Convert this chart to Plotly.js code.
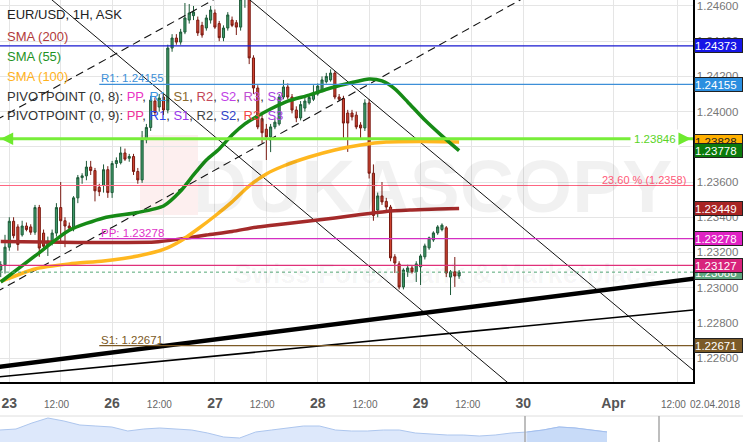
<!DOCTYPE html>
<html><head><meta charset="utf-8">
<script src="https://cdn.plot.ly/plotly-3.0.1.min.js"></script>
<style>html,body{margin:0;padding:0;background:#fff;}#chart{width:743px;height:442px;}</style>
</head><body><div id="chart"></div>
<script>
// ---- DATA (hours on a trading-time scale: 0 = 23 Mar 2018 00:00, weekend closure removed) ----
const hours = [-2,-1,0,1,2,3,4,5,6,7,8,9,10,11,12,13,14,15,16,17,18,19,20,21,22,23,24,25,26,27,28,29,30,31,32,33,34,35,36,37,38,39,40,41,42,43,44,45,46,47,48,49,50,51,52,53,54,55,56,57,58,59,60,61,62,63,64,65,66,67,68,69,70,71,72,73,74,75,76,77,78,79,80,81,82,83,84,85,86,87,88,89,90,91,92,93,94,95,96,97,98,99,100,101,102,103,104,105];
const opens = [1.23100,1.23130,1.23230,1.23377,1.23345,1.23300,1.23350,1.23345,1.23315,1.23455,1.23310,1.23235,1.23265,1.23310,1.23455,1.23380,1.23350,1.23338,1.23510,1.23625,1.23635,1.23685,1.23665,1.23570,1.23580,1.23670,1.23540,1.23705,1.23710,1.23765,1.23735,1.23745,1.23660,1.23612,1.23840,1.23910,1.24060,1.24026,1.24083,1.24009,1.24361,1.24418,1.24395,1.24452,1.24520,1.24545,1.24520,1.24490,1.24475,1.24520,1.24560,1.24500,1.24420,1.24475,1.24520,1.24505,1.24480,1.24640,1.24720,1.24305,1.24134,1.23960,1.23900,1.23856,1.23913,1.23930,1.24083,1.24140,1.24083,1.24009,1.23964,1.24020,1.24050,1.24070,1.24100,1.24120,1.24170,1.24180,1.24219,1.24083,1.24075,1.23992,1.23992,1.23980,1.23924,1.23907,1.24049,1.23650,1.23441,1.23521,1.23490,1.23458,1.23175,1.23135,1.23004,1.23090,1.23112,1.23090,1.23118,1.23175,1.23226,1.23271,1.23311,1.23330,1.23340,1.23060,1.23090,1.23066];
const highs = [1.23150,1.23300,1.23400,1.23400,1.23360,1.23380,1.23370,1.23360,1.23470,1.23470,1.23330,1.23290,1.23330,1.23480,1.23600,1.23400,1.23370,1.23520,1.23640,1.23650,1.23720,1.23720,1.23680,1.23590,1.23700,1.23690,1.23720,1.23740,1.23800,1.23790,1.23760,1.23760,1.23680,1.23890,1.23930,1.24090,1.24080,1.24100,1.24100,1.24380,1.24440,1.24440,1.24470,1.24617,1.24611,1.24600,1.24540,1.24510,1.24550,1.24600,1.24580,1.24515,1.24490,1.24565,1.24540,1.24520,1.24660,1.24760,1.24740,1.24320,1.24150,1.23990,1.23930,1.23930,1.23960,1.24100,1.24180,1.24160,1.24100,1.24030,1.24060,1.24080,1.24100,1.24150,1.24160,1.24200,1.24220,1.24240,1.24230,1.24100,1.24090,1.24010,1.24010,1.24000,1.23940,1.24070,1.24070,1.23700,1.23540,1.23600,1.23510,1.23470,1.23190,1.23150,1.23110,1.23130,1.23125,1.23150,1.23190,1.23250,1.23290,1.23320,1.23355,1.23365,1.23350,1.23100,1.23174,1.23100];
const lows = [1.23060,1.23080,1.23210,1.23280,1.23210,1.23290,1.23320,1.23300,1.23300,1.23175,1.23210,1.23180,1.23240,1.23290,1.23250,1.23230,1.23320,1.23320,1.23480,1.23590,1.23610,1.23640,1.23490,1.23520,1.23540,1.23510,1.23510,1.23680,1.23700,1.23720,1.23715,1.23640,1.23590,1.23595,1.23820,1.23890,1.23980,1.24000,1.23981,1.23990,1.24340,1.24380,1.24380,1.24440,1.24500,1.24520,1.24430,1.24420,1.24460,1.24500,1.24470,1.24400,1.24400,1.24460,1.24480,1.24435,1.24460,1.24590,1.24270,1.24100,1.23900,1.23820,1.23725,1.23770,1.23900,1.23920,1.24070,1.24070,1.23990,1.23940,1.23950,1.24000,1.24040,1.24060,1.24090,1.24110,1.24160,1.24170,1.24070,1.24060,1.23840,1.23771,1.23950,1.23900,1.23839,1.23890,1.23620,1.23380,1.23400,1.23470,1.23440,1.23150,1.23083,1.22990,1.22990,1.23061,1.23080,1.23032,1.23015,1.23160,1.23215,1.23260,1.23300,1.23320,1.23060,1.22958,1.23004,1.23050];
const closes = [1.23130,1.23230,1.23377,1.23295,1.23245,1.23350,1.23330,1.23315,1.23455,1.23225,1.23235,1.23265,1.23310,1.23455,1.23380,1.23350,1.23338,1.23510,1.23625,1.23635,1.23685,1.23665,1.23550,1.23545,1.23670,1.23540,1.23705,1.23722,1.23765,1.23730,1.23745,1.23660,1.23612,1.23840,1.23910,1.24066,1.23995,1.24077,1.24009,1.24361,1.24418,1.24395,1.24452,1.24532,1.24560,1.24566,1.24447,1.24435,1.24532,1.24577,1.24480,1.24420,1.24475,1.24549,1.24490,1.24480,1.24640,1.24720,1.24305,1.24134,1.23913,1.23880,1.23856,1.23913,1.23940,1.24083,1.24140,1.24083,1.24009,1.23964,1.24040,1.24060,1.24080,1.24100,1.24145,1.24180,1.24200,1.24219,1.24083,1.24070,1.23935,1.23935,1.23970,1.23913,1.23907,1.24049,1.23650,1.23410,1.23521,1.23487,1.23458,1.23169,1.23140,1.23004,1.23100,1.23112,1.23090,1.23135,1.23180,1.23237,1.23283,1.23311,1.23345,1.23355,1.23083,1.23090,1.23066,1.23088];

const sma200Hours = [-2,8,16,26,34,40,46,52,58,64,70,76,82,88,94,100,105];
const sma200 = [1.23262,1.23259,1.23257,1.23257,1.23259,1.23277,1.23299,1.23319,1.23345,1.23362,1.23379,1.23396,1.23416,1.23433,1.23441,1.23447,1.23450];
const sma55Hours = [-2,6,14,22,30,36,40,43,46,49,52,55,58,61,65,70,75,80,84,87,90,93,97,101,105];
const sma55 = [1.23032,1.23180,1.23326,1.23396,1.23427,1.23464,1.23549,1.23640,1.23725,1.23788,1.23867,1.23930,1.23975,1.24015,1.24060,1.24094,1.24134,1.24165,1.24185,1.24174,1.24129,1.24055,1.23952,1.23862,1.23778];
const sma100Hours = [-2,6,14,22,30,36,40,44,48,52,56,60,64,70,76,82,88,96,105];
const sma100 = [1.23035,1.23106,1.23135,1.23152,1.23180,1.23217,1.23265,1.23333,1.23407,1.23487,1.23578,1.23646,1.23691,1.23742,1.23782,1.23810,1.23827,1.23830,1.23828];

// drawn trend lines: [start hour, end hour], [start price, end price]
const channelUpperHours = [55, 160], channelUpperPrices = [1.24658, 1.22524];
const channelLowerHours = [9, 118], channelLowerPrices = [1.24654, 1.22427];
const dashUpperHours = [-3, 49], dashUpperPrices = [1.23953, 1.24653];
const dashLowerHours = [-3, 121], dashLowerPrices = [1.22976, 1.24658];
const supportHours = [-3, 160], supportPrices = [1.22548, 1.23052];
const support2Hours = [-3, 160], support2Prices = [1.22492, 1.22874];

// horizontal levels
const blueLevel = 1.24373, r1Level = 1.24155, greenLevel = 1.23846, fibLevel = 1.2358;
const ppLevel = 1.23278, pinkLevel = 1.23127, lastPrice = 1.23088, s1Level = 1.22671;
const pivotStartHour = 21;

// axis ticks
const tickHours = [0,12,24,36,48,60,72,84,96,108,120,141,156];
const tickNames = ['23','12:00','26','12:00','27','12:00','28','12:00','29','12:00','30','Apr','12:00'];
const priceTicks = [1.226,1.228,1.230,1.232,1.234,1.236,1.238,1.240,1.242,1.244,1.246];

// right-axis price boxes
const boxPrices = [1.24373,1.24155,1.23828,1.23778,1.23449,1.23278,1.23088,1.23127,1.22671];
const boxColors = ['#1616e6','#2b8fe0','#ffb000','#0b7a0b','#a82424','#e022c4','#5ea57e','#d8237c','#7b5a27'];
const boxText = ['#fff','#fff','#222','#fff','#fff','#fff','#fff','#fff','#fff'];

// navigator (overview) series
const navIndex = [0,1,2,3,4,5,6,7,8,9,10,11,12,13,14,15,16,17,18,19,20,21,22,23,24,25,26,27,28,29,30,31,32,33,34,35,36,37,38];
const navValues = [12,13,19,24,21,17,16,15,11,13,14,13,12,9,5,4,10,12,14,16,16,12,11,11,12,12,9,8,7,7,6,7,9,10,12,15,14,12,10];

// ---- CHART ----
const W = 743, H = 442, plotR = 693, plotB = 382;
const FONT = 'Liberation Sans, Arial, sans-serif';
const traces = [];
traces.push({type:'candlestick', x:hours, open:opens, high:highs, low:lows, close:closes,
  increasing:{line:{color:'#1d5a38', width:1}, fillcolor:'#3f9a68'},
  decreasing:{line:{color:'#7a1a12', width:1}, fillcolor:'#cf4330'},
  whiskerwidth:0, hoverinfo:'skip', xaxis:'x', yaxis:'y'});
function line(x, y, color, width, dash){
  traces.push({type:'scatter', mode:'lines', x:x, y:y, line:{color:color, width:width, dash:dash||'solid'}, hoverinfo:'skip', xaxis:'x', yaxis:'y'});
}
line(channelUpperHours, channelUpperPrices, '#111', 1);
line(channelLowerHours, channelLowerPrices, '#111', 1);
line(dashUpperHours, dashUpperPrices, '#111', 1.1, '8px,5px');
line(dashLowerHours, dashLowerPrices, '#111', 1.1, '8px,5px');
line(supportHours, supportPrices, '#000', 4.5);
line(support2Hours, support2Prices, '#000', 1.6);
traces.push({type:'scatter', mode:'lines', x:sma200Hours, y:sma200, line:{color:'#a42a2a', width:3.5, shape:'spline', smoothing:0.6}, hoverinfo:'skip', xaxis:'x', yaxis:'y'});
traces.push({type:'scatter', mode:'lines', x:sma100Hours, y:sma100, line:{color:'#ffb71f', width:3.5, shape:'spline', smoothing:0.6}, hoverinfo:'skip', xaxis:'x', yaxis:'y'});
traces.push({type:'scatter', mode:'lines', x:sma55Hours, y:sma55, line:{color:'#168a16', width:3.5, shape:'spline', smoothing:0.6}, hoverinfo:'skip', xaxis:'x', yaxis:'y'});
// navigator
traces.push({type:'scatter', mode:'lines', x:navIndex, y:navValues, fill:'tozeroy', fillcolor:'#dde8fb', line:{color:'#adc6ee', width:1}, xaxis:'x2', yaxis:'y2', hoverinfo:'skip'});
traces.push({type:'scatter', mode:'lines', x:navIndex.slice(33), y:navValues.slice(33), fill:'tozeroy', fillcolor:'#c8dbf8', line:{color:'#a3bfee', width:1}, xaxis:'x2', yaxis:'y2', hoverinfo:'skip'});

const shapes = [];
function hline(p, color, width, x0h, dash){
  if (x0h == null) shapes.push({type:'line', xref:'x domain', yref:'y', x0:0, x1:1, y0:p, y1:p, line:{color:color, width:width, dash:dash||'solid'}});
  else shapes.push({type:'line', xref:'x', yref:'y', x0:x0h, x1:160, y0:p, y1:p, line:{color:color, width:width, dash:dash||'solid'}});
}
// watermark logo block
shapes.push({type:'rect', xref:'paper', yref:'paper', x0:140/W, x1:198/W, y0:1-215/H, y1:1-135/H, fillcolor:'rgba(235,120,120,0.12)', line:{width:0}, layer:'below'});
hline(blueLevel, '#1818d0', 1.3);
hline(r1Level, '#3d8fd8', 1.2, pivotStartHour);
hline(greenLevel, '#78ee3a', 3);
hline(fibLevel, '#ff6682', 1.1);
hline(ppLevel, '#d42fc2', 1.2, pivotStartHour);
hline(pinkLevel, '#e0307a', 1.3);
hline(lastPrice, '#55a877', 1, null, '3px,3px');
hline(s1Level, '#7c5a26', 1.2, pivotStartHour);
// navigator frame
shapes.push({type:'line', xref:'paper', yref:'paper', x0:0, x1:1, y0:26/H, y1:26/H, line:{color:'#dedede', width:1}});
shapes.push({type:'line', xref:'paper', yref:'paper', x0:525/W, x1:525/W, y0:0, y1:26/H, line:{color:'#a8a8a8', width:1.5}});
shapes.push({type:'line', xref:'paper', yref:'paper', x0:659/W, x1:659/W, y0:0, y1:26/H, line:{color:'#a8a8a8', width:1.5}});

const ann = [];
// watermark
ann.push({xref:'paper', yref:'paper', x:432/W, y:1-186/H, xanchor:'center', yanchor:'middle', text:'<b>DUKASCOPY</b>', showarrow:false, font:{family:FONT, size:75, color:'rgba(0,0,0,0.055)'}});
ann.push({xref:'paper', yref:'paper', x:445/W, y:1-274/H, xanchor:'center', yanchor:'middle', text:'<b>Swiss Forex Bank &amp; Marketplace</b>', showarrow:false, font:{family:FONT, size:27, color:'rgba(0,0,0,0.045)'}});
// legend text block
const span = (c, t) => '<span style="color:' + c + '">' + t + '</span>';
const legendRows = [
  ['EUR/USD, 1H, ASK', '#222'],
  ['SMA (200)', '#b23a3a'],
  ['SMA (55)', '#1f931f'],
  ['SMA (100)', '#ffb21c'],
  ['PIVOTPOINT (0, 8): ' + span('#ea35c6','PP') + ', ' + span('#3a94e0','R1') + ', ' + span('#8a6a2e','S1') + ', ' + span('#c44657','R2') + ', ' + span('#c13fe6','S2') + ', ' + span('#c24ed2','R3') + ', ' + span('#a842e0','S3'), '#333'],
  ['PIVOTPOINT (0, 9): ' + span('#ee3399','PP') + ', ' + span('#2f45ee','R1') + ', ' + span('#9a35ea','S1') + ', ' + span('#444','R2') + ', ' + span('#3042c8','S2') + ', ' + span('#f24545','R3') + ', ' + span('#a842e0','S3'), '#333']
];
const legendY = [15, 36, 56, 76, 96, 116];
legendRows.forEach((r, i) => ann.push({xref:'paper', yref:'paper', x:5/W, y:1-legendY[i]/H, xanchor:'left', yanchor:'middle', text:r[0], showarrow:false, font:{family:FONT, size:13, color:r[1]}}));
// level labels
ann.push({xref:'x', yref:'y', x:pivotStartHour, y:r1Level, xanchor:'left', yanchor:'bottom', text:'R1: ' + r1Level.toFixed(5), showarrow:false, font:{family:FONT, size:11.5, color:'#3d8fd8'}, yshift:-2});
ann.push({xref:'x', yref:'y', x:pivotStartHour, y:ppLevel, xanchor:'left', yanchor:'bottom', text:'PP: ' + ppLevel.toFixed(5), showarrow:false, font:{family:FONT, size:11.5, color:'#e032c8'}, yshift:-2});
ann.push({xref:'x', yref:'y', x:pivotStartHour, y:s1Level, xanchor:'left', yanchor:'bottom', text:'S1: ' + s1Level.toFixed(5), showarrow:false, font:{family:FONT, size:11.5, color:'#7c5a26'}, yshift:-2});
ann.push({xref:'x domain', yref:'y', x:0.993, y:fibLevel, xanchor:'right', yanchor:'bottom', text:'23.60 % (' + fibLevel.toFixed(4) + ')', showarrow:false, font:{family:FONT, size:11, color:'#ff5a78'}, yshift:-2});
ann.push({xref:'x domain', yref:'y', x:655/plotR, y:greenLevel, xanchor:'center', yanchor:'middle', text:greenLevel.toFixed(5), showarrow:false, bgcolor:'#fff', borderpad:3, font:{family:FONT, size:11.5, color:'#5ad425'}});
ann.push({xref:'x domain', yref:'y', x:0.001, y:greenLevel, ax:12, ay:0, text:'', showarrow:true, arrowhead:2, arrowsize:1, arrowwidth:2.5, arrowcolor:'#6eea2e'});
ann.push({xref:'x domain', yref:'y', x:0.997, y:greenLevel, ax:-12, ay:0, text:'', showarrow:true, arrowhead:2, arrowsize:1, arrowwidth:2.5, arrowcolor:'#6eea2e'});
// right-axis price boxes
boxPrices.forEach((p, i) => ann.push({xref:'paper', yref:'y', x:694/W, y:p, xanchor:'left', yanchor:'middle', text:p.toFixed(5), showarrow:false, bgcolor:boxColors[i], bordercolor:'#222', borderwidth:1, borderpad:0, width:47, height:13, align:'left', font:{family:FONT, size:11.5, color:boxText[i]}}));
ann.push({xref:'paper', yref:'paper', x:742/W, y:1-404/H, xanchor:'right', yanchor:'middle', text:'02.04.2018', showarrow:false, font:{family:FONT, size:10, color:'#666'}});

const tickText = tickNames.map(t => t === '12:00' ? '<span style="font-size:10px;color:#666">12:00&nbsp;&nbsp;&nbsp;</span>' : '<b>' + t + '</b>');

const layout = {
  width:W, height:H, margin:{l:0, r:0, t:0, b:0}, paper_bgcolor:'#fff', plot_bgcolor:'#fff', showlegend:false,
  font:{family:FONT},
  xaxis:{domain:[0, plotR/W], range:[-2.17, 159.6], tickmode:'array', tickvals:tickHours, ticktext:tickText,
    showgrid:true, gridcolor:'#e5e5e5', gridwidth:1, zeroline:false, showline:true, linecolor:'#000', linewidth:1.5,
    ticks:'', tickfont:{family:FONT, size:14, color:'#555'}, ticklabelstandoff:8, rangeslider:{visible:false}, fixedrange:true, anchor:'y'},
  yaxis:{domain:[(H-plotB)/H, 1], range:[1.22464, 1.24634], side:'right', tickmode:'array', tickvals:priceTicks,
    ticktext:priceTicks.map(v => v.toFixed(5)), showgrid:true, gridcolor:'#e5e5e5', zeroline:false, showline:true, linecolor:'#000', linewidth:1.5,
    ticks:'', tickfont:{family:FONT, size:11.5, color:'#777'}, anchor:'x', fixedrange:true},
  xaxis2:{domain:[0,1], range:[0, 38*W/607], visible:false, anchor:'y2', fixedrange:true},
  yaxis2:{domain:[0, 26/H], range:[0, 26], visible:false, anchor:'x2', fixedrange:true},
  shapes:shapes, annotations:ann
};
Plotly.newPlot('chart', traces, layout, {staticPlot:true, displayModeBar:false});
</script></body></html>
